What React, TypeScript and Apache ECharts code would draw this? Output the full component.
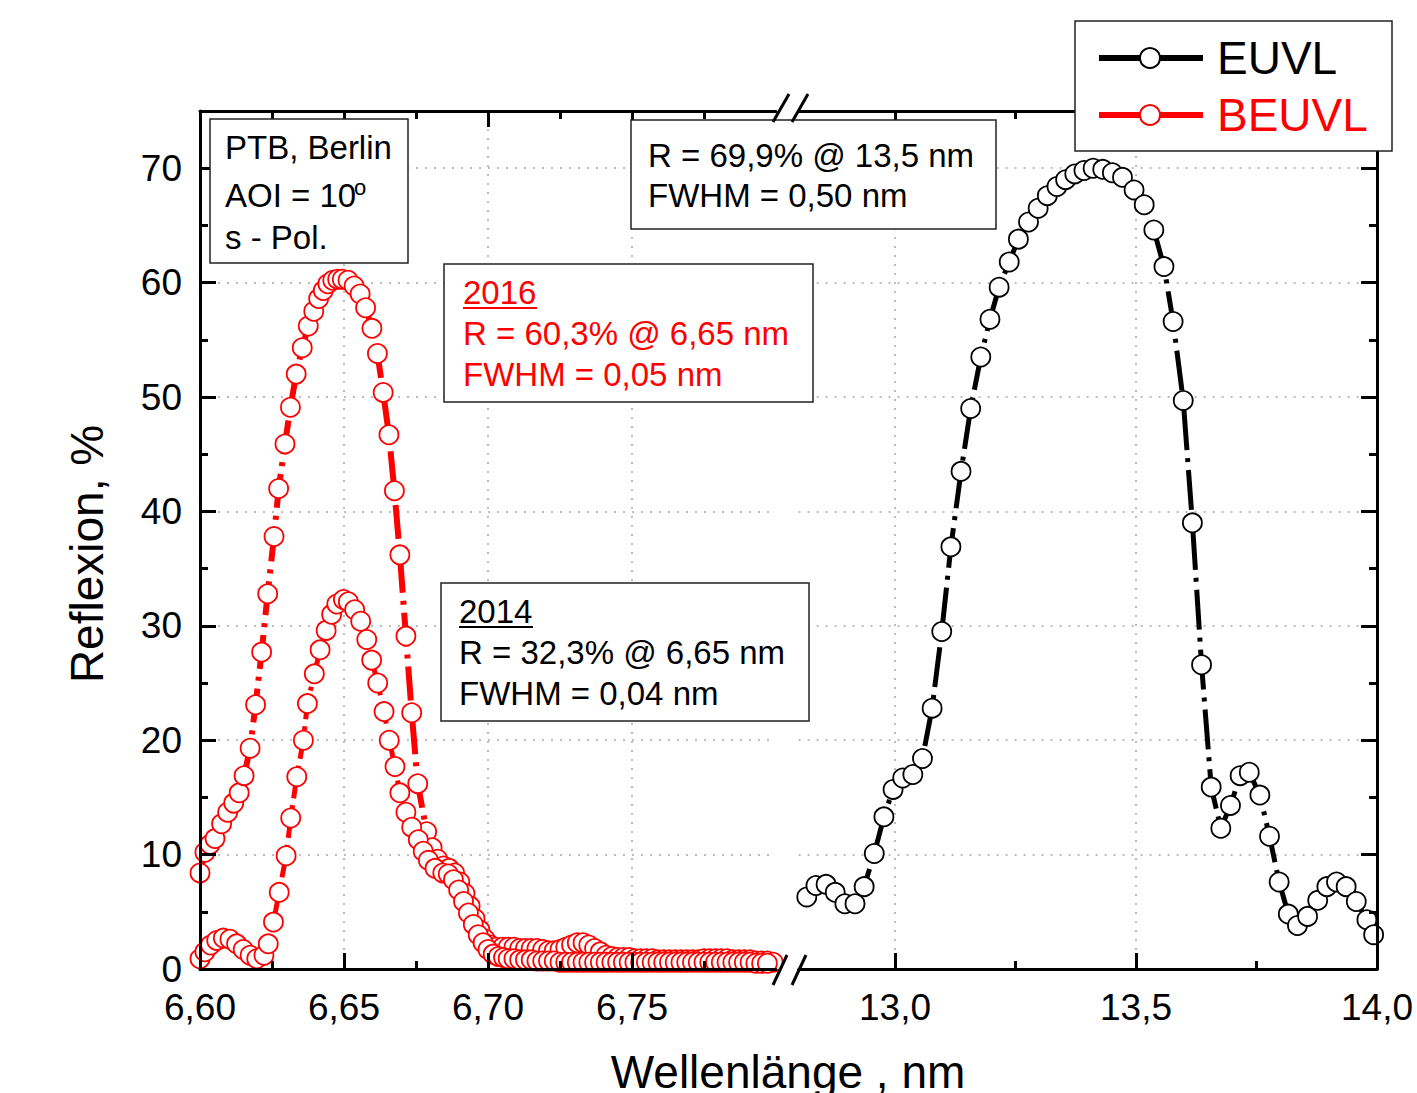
import React, { useEffect, useRef } from 'react';
import * as echarts from 'echarts';

const FONT = '"Liberation Sans", Arial, Helvetica, sans-serif';

// EUVL (black) – right panel
const euvl: [number, number][] = [
  [12.817, 6.3], [12.836, 7.3], [12.857, 7.4], [12.876, 6.7], [12.896, 5.7], [12.917, 5.7],
  [12.936, 7.2], [12.957, 10.1], [12.977, 13.3], [12.996, 15.7], [13.016, 16.7], [13.037, 17.0],
  [13.057, 18.4], [13.077, 22.8], [13.097, 29.5], [13.116, 36.9], [13.137, 43.5], [13.157, 49.0],
  [13.178, 53.5], [13.197, 56.8], [13.216, 59.6], [13.237, 61.8], [13.256, 63.8], [13.277, 65.3],
  [13.297, 66.5], [13.316, 67.6], [13.336, 68.4], [13.354, 69.0], [13.373, 69.5], [13.392, 69.8],
  [13.411, 70.0], [13.431, 69.9], [13.451, 69.6], [13.472, 69.2], [13.496, 68.1], [13.517, 66.8],
  [13.537, 64.6], [13.558, 61.4], [13.577, 56.6], [13.598, 49.7], [13.617, 39.0], [13.636, 26.6],
  [13.656, 15.9], [13.676, 12.3], [13.696, 14.3], [13.716, 16.9], [13.735, 17.2], [13.757, 15.2],
  [13.777, 11.6], [13.797, 7.6], [13.816, 4.8], [13.835, 3.8], [13.856, 4.6], [13.877, 6.0],
  [13.896, 7.2], [13.916, 7.6], [13.936, 7.2], [13.957, 5.9], [13.979, 4.3], [13.993, 3.0],
];

// BEUVL 2016 (red) – left panel
const beuvl2016: [number, number][] = [
  [6.6000, 8.4], [6.6017, 10.2], [6.6035, 10.9], [6.6052, 11.4], [6.6075, 12.7], [6.6096, 13.7],
  [6.6117, 14.5], [6.6136, 15.4], [6.6153, 16.9], [6.6174, 19.3], [6.6193, 23.1], [6.6214, 27.7],
  [6.6235, 32.8], [6.6257, 37.8], [6.6273, 42.0], [6.6295, 45.9], [6.6314, 49.1], [6.6334, 52.0],
  [6.6355, 54.3], [6.6376, 56.2], [6.6395, 57.5], [6.6412, 58.6], [6.6428, 59.3], [6.6444, 59.9],
  [6.6461, 60.2], [6.6478, 60.3], [6.6494, 60.3], [6.6514, 60.2], [6.6535, 59.7], [6.6556, 59.0],
  [6.6575, 57.8], [6.6597, 56.0], [6.6616, 53.8], [6.6636, 50.4], [6.6656, 46.7], [6.6675, 41.8],
  [6.6694, 36.2], [6.6715, 29.1], [6.6735, 22.4], [6.6756, 16.2], [6.6787, 12.0], [6.6806, 10.6],
  [6.6825, 9.6], [6.6845, 9.0], [6.6865, 8.8], [6.6884, 8.4], [6.6902, 7.6], [6.6920, 6.6],
  [6.6938, 5.5], [6.6955, 4.4], [6.6972, 3.4], [6.6990, 2.6], [6.7008, 2.1], [6.7027, 1.9],
  [6.705, 1.9], [6.707, 1.9], [6.709, 1.9], [6.711, 1.8], [6.713, 1.8], [6.715, 1.8],
  [6.717, 1.8], [6.719, 1.7], [6.721, 1.6], [6.723, 1.6], [6.725, 1.7], [6.727, 1.9],
  [6.729, 2.1], [6.731, 2.3], [6.733, 2.3], [6.735, 2.1], [6.737, 1.8], [6.739, 1.5],
  [6.741, 1.2], [6.743, 1.1], [6.745, 1.0], [6.747, 1.0], [6.749, 1.0], [6.751, 0.9],
  [6.753, 0.9], [6.755, 0.9], [6.757, 0.9], [6.759, 0.8], [6.761, 0.8], [6.763, 0.8],
  [6.765, 0.8], [6.767, 0.8], [6.769, 0.8], [6.771, 0.8], [6.773, 0.8], [6.775, 0.9],
  [6.777, 0.9], [6.779, 0.9], [6.781, 0.9], [6.783, 0.9], [6.785, 0.8], [6.787, 0.8],
  [6.789, 0.8], [6.791, 0.8], [6.793, 0.7], [6.795, 0.7], [6.797, 0.7], [6.799, 0.6],
];

// BEUVL 2014 (red) – left panel
const beuvl2014: [number, number][] = [
  [6.6000, 0.9], [6.6017, 1.5], [6.6037, 2.1], [6.6058, 2.5], [6.6081, 2.7], [6.6104, 2.6],
  [6.6127, 2.2], [6.6150, 1.7], [6.6174, 1.2], [6.6197, 0.9], [6.6222, 1.2], [6.6237, 2.2],
  [6.6255, 4.1], [6.6275, 6.7], [6.6299, 9.9], [6.6315, 13.2], [6.6336, 16.8], [6.6359, 20.0],
  [6.6373, 23.2], [6.6397, 25.8], [6.6417, 27.9], [6.6438, 29.6], [6.6457, 31.0], [6.6475, 31.9],
  [6.6498, 32.3], [6.6515, 32.1], [6.6537, 31.4], [6.6558, 30.4], [6.6579, 28.8], [6.6596, 27.0],
  [6.6617, 25.0], [6.6639, 22.5], [6.6657, 20.0], [6.6677, 17.7], [6.6694, 15.4], [6.6715, 13.7],
  [6.6735, 12.4], [6.6758, 11.3], [6.6775, 10.3], [6.6793, 9.5], [6.6816, 8.8], [6.6843, 8.4],
  [6.6862, 8.3], [6.6880, 7.8], [6.6898, 6.9], [6.6915, 5.9], [6.6932, 4.9], [6.6949, 3.9],
  [6.6966, 3.0], [6.6983, 2.3], [6.7000, 1.7], [6.7018, 1.3], [6.7036, 1.1], [6.7054, 1.0],
  [6.707, 0.9], [6.709, 0.9], [6.711, 0.8], [6.713, 0.8], [6.715, 0.8], [6.717, 0.7],
  [6.719, 0.7], [6.721, 0.7], [6.723, 0.7], [6.725, 0.6], [6.727, 0.6], [6.729, 0.6],
  [6.731, 0.6], [6.733, 0.6], [6.735, 0.6], [6.737, 0.6], [6.739, 0.6], [6.741, 0.6],
  [6.743, 0.6], [6.745, 0.6], [6.747, 0.6], [6.749, 0.6], [6.751, 0.6], [6.753, 0.6],
  [6.755, 0.6], [6.757, 0.6], [6.759, 0.6], [6.761, 0.6], [6.763, 0.6], [6.765, 0.6],
  [6.767, 0.6], [6.769, 0.6], [6.771, 0.6], [6.773, 0.6], [6.775, 0.6], [6.777, 0.6],
  [6.779, 0.6], [6.781, 0.6], [6.783, 0.6], [6.785, 0.6], [6.787, 0.6], [6.789, 0.6],
  [6.791, 0.6], [6.793, 0.5], [6.795, 0.5], [6.797, 0.5],
];

// ticks
const leftMajor = [6.6, 6.65, 6.7, 6.75];
const leftMinor = [6.625, 6.675, 6.725, 6.775];
const leftGridLines = [6.65, 6.7, 6.75];
const rightMajor = [13.0, 13.5, 14.0];
const rightMinor = [13.25, 13.75];
const rightGridLines = [13.0, 13.5];
const yMajor = [0, 10, 20, 30, 40, 50, 60, 70];
const yMinor = [5, 15, 25, 35, 45, 55, 65];
const yGridLines = [10, 20, 30, 40, 50, 60, 70];

const AX = '#000';
const comma = (v: number, d: number) => v.toFixed(d).replace('.', ',');

function xAxes(grid: number, min: number, max: number, major: number[], minor: number[], gl: number[], dec: number) {
  const base = { type: 'value', gridIndex: grid, min, max, axisLine: { onZero: false } };
  const lineOn = { show: true, onZero: false, lineStyle: { color: AX, width: 3 } };
  return [
    {
      ...base, position: 'bottom', z: 3, axisLine: lineOn,
      axisTick: { show: true, inside: true, length: 16, customValues: major, lineStyle: { color: AX, width: 3 } },
      axisLabel: { show: true, customValues: major, formatter: (v: number) => comma(v, dec), fontSize: 37, fontFamily: FONT, color: '#000', margin: 20 },
      splitLine: { show: false },
    },
    {
      ...base, position: 'bottom', z: 3, axisLine: { show: false, onZero: false },
      axisTick: { show: true, inside: true, length: 8, customValues: minor, lineStyle: { color: AX, width: 3 } },
      axisLabel: { show: false }, splitLine: { show: false },
    },
    {
      ...base, position: 'top', z: 3, axisLine: lineOn,
      axisTick: { show: true, inside: true, length: 16, customValues: major, lineStyle: { color: AX, width: 3 } },
      axisLabel: { show: false }, splitLine: { show: false },
    },
    {
      ...base, position: 'top', z: 3, axisLine: { show: false, onZero: false },
      axisTick: { show: true, inside: true, length: 8, customValues: minor, lineStyle: { color: AX, width: 3 } },
      axisLabel: { show: false }, splitLine: { show: false },
    },
    {
      ...base, position: 'bottom', z: 0, axisLine: { show: false, onZero: false },
      axisTick: { show: false, customValues: gl }, axisLabel: { show: false },
      splitLine: { show: true, lineStyle: { color: '#a8a8a8', width: 1.5, type: [2, 7] } },
    },
  ];
}

function yAxes(grid: number, pos: 'left' | 'right', labels: boolean) {
  const base = { type: 'value', gridIndex: grid, min: 0, max: 75, position: pos };
  return [
    {
      ...base, z: 3, axisLine: { show: true, onZero: false, lineStyle: { color: AX, width: 3 } },
      axisTick: { show: true, inside: true, length: 16, customValues: yMajor, lineStyle: { color: AX, width: 3 } },
      axisLabel: { show: labels, customValues: yMajor, fontSize: 37, fontFamily: FONT, color: '#000', margin: 18 },
      splitLine: { show: false },
    },
    {
      ...base, z: 3, axisLine: { show: false, onZero: false },
      axisTick: { show: true, inside: true, length: 8, customValues: yMinor, lineStyle: { color: AX, width: 3 } },
      axisLabel: { show: false }, splitLine: { show: false },
    },
    {
      ...base, z: 0, axisLine: { show: false, onZero: false },
      axisTick: { show: false, customValues: yGridLines }, axisLabel: { show: false },
      splitLine: { show: true, lineStyle: { color: '#a8a8a8', width: 1.5, type: [2, 7] } },
    },
  ];
}

const txt = (x: number, y: number, text: string, size: number, fill = '#000', extra: any = {}) => ({
  type: 'text', x, y, z: 101,
  style: { text, fontSize: size, fontFamily: FONT, fill, verticalAlign: 'middle', align: 'left', ...extra },
});

const box = (x: number, y: number, w: number, h: number) => ({
  type: 'rect', z: 100, shape: { x, y, width: w, height: h },
  style: { fill: '#fff', stroke: '#222', lineWidth: 1.5 },
});

const seg = (x1: number, y1: number, x2: number, y2: number, stroke: string, lw: number) => ({
  type: 'line', z: 101, shape: { x1, y1, x2, y2 }, style: { stroke, lineWidth: lw },
});

export default function App() {
  const ref = useRef<HTMLDivElement>(null);
  useEffect(() => {
    if (!ref.current) return;
    const chart = echarts.init(ref.current, null, { renderer: 'svg' });
    const markerRed = { color: '#fff', borderColor: '#ff0000', borderWidth: 1.8 };
    const yTitle: any = txt(87, 554, 'Reflexion, %', 46, '#000', { align: 'center' });
    yTitle.rotation = Math.PI / 2;
    const option: any = {
      animation: false,
      backgroundColor: '#fff',
      grid: [
        { left: 200, top: 111, width: 576, height: 858, outerBoundsMode: 'none' },
        { left: 798.6, top: 111, width: 578.4, height: 858, outerBoundsMode: 'none' },
      ],
      xAxis: [
        ...xAxes(0, 6.6, 6.8, leftMajor, leftMinor, leftGridLines, 2),
        ...xAxes(1, 12.8, 14.0, rightMajor, rightMinor, rightGridLines, 1),
      ],
      yAxis: [...yAxes(0, 'left', true), ...yAxes(1, 'right', false)],
      series: [
        {
          type: 'line', name: 'BEUVL 2016', xAxisIndex: 0, yAxisIndex: 0, data: beuvl2016,
          symbol: 'circle', symbolSize: 19, showSymbol: true, z: 2,
          itemStyle: markerRed,
          lineStyle: { color: '#ff0000', width: 6, type: [34, 8, 4, 8] },
        },
        {
          type: 'line', name: 'BEUVL 2014', xAxisIndex: 0, yAxisIndex: 0, data: beuvl2014,
          symbol: 'circle', symbolSize: 19, showSymbol: true, z: 2,
          itemStyle: markerRed,
          lineStyle: { color: '#ff0000', width: 5, type: [22, 7, 4, 7] },
        },
        {
          type: 'line', name: 'EUVL', xAxisIndex: 5, yAxisIndex: 3, data: euvl,
          symbol: 'circle', symbolSize: 19, showSymbol: true, z: 2,
          itemStyle: { color: '#fff', borderColor: '#000', borderWidth: 1.8 },
          lineStyle: { color: '#000', width: 5, type: [40, 8, 4, 8] },
        },
      ],
      graphic: [
        // axis breaks
        seg(773, 985, 787, 955, '#000', 3),
        seg(792, 985, 806, 955, '#000', 3),
        seg(773, 122, 789, 94, '#000', 3),
        seg(792, 122, 808, 94, '#000', 3),
        // info box
        box(210, 119, 198, 144),
        txt(225, 147, 'PTB, Berlin', 33),
        txt(225, 195, 'AOI = 10', 33),
        txt(354, 187, 'o', 22),
        txt(225, 237, 's - Pol.', 33),
        // EUVL box
        box(631, 120, 365, 109),
        txt(648, 155, 'R = 69,9% @ 13,5 nm', 33),
        txt(648, 195, 'FWHM = 0,50 nm', 33),
        // 2016 box
        box(444, 264, 369, 138),
        txt(463, 292, '2016', 33, '#ff0000'),
        seg(463, 308, 537, 308, '#ff0000', 2),
        txt(463, 333, 'R = 60,3% @ 6,65 nm', 33, '#ff0000'),
        txt(463, 374, 'FWHM = 0,05 nm', 33, '#ff0000'),
        // 2014 box
        box(441, 583, 368, 138),
        txt(459, 611, '2014', 33),
        seg(459, 627, 533, 627, '#000', 2),
        txt(459, 652, 'R = 32,3% @ 6,65 nm', 33),
        txt(459, 693, 'FWHM = 0,04 nm', 33),
        // legend
        box(1075, 21, 317, 130),
        seg(1099, 58, 1203, 58, '#000', 6),
        { type: 'circle', z: 102, shape: { cx: 1150, cy: 58, r: 10 }, style: { fill: '#fff', stroke: '#000', lineWidth: 2 } },
        txt(1217, 58, 'EUVL', 46),
        seg(1099, 115, 1203, 115, '#ff0000', 6),
        { type: 'circle', z: 102, shape: { cx: 1150, cy: 115, r: 10 }, style: { fill: '#fff', stroke: '#ff0000', lineWidth: 2 } },
        txt(1217, 115, 'BEUVL', 46, '#ff0000'),
        // axis titles
        yTitle,
        txt(788, 1072, 'Wellenlänge , nm', 46, '#000', { align: 'center' }),
      ],
    };
    chart.setOption(option);
    return () => chart.dispose();
  }, []);
  return (
    <div
      ref={ref}
      style={{ position: 'fixed', left: 0, top: 0, width: 1417, height: 1093, background: '#fff' }}
    />
  );
}
